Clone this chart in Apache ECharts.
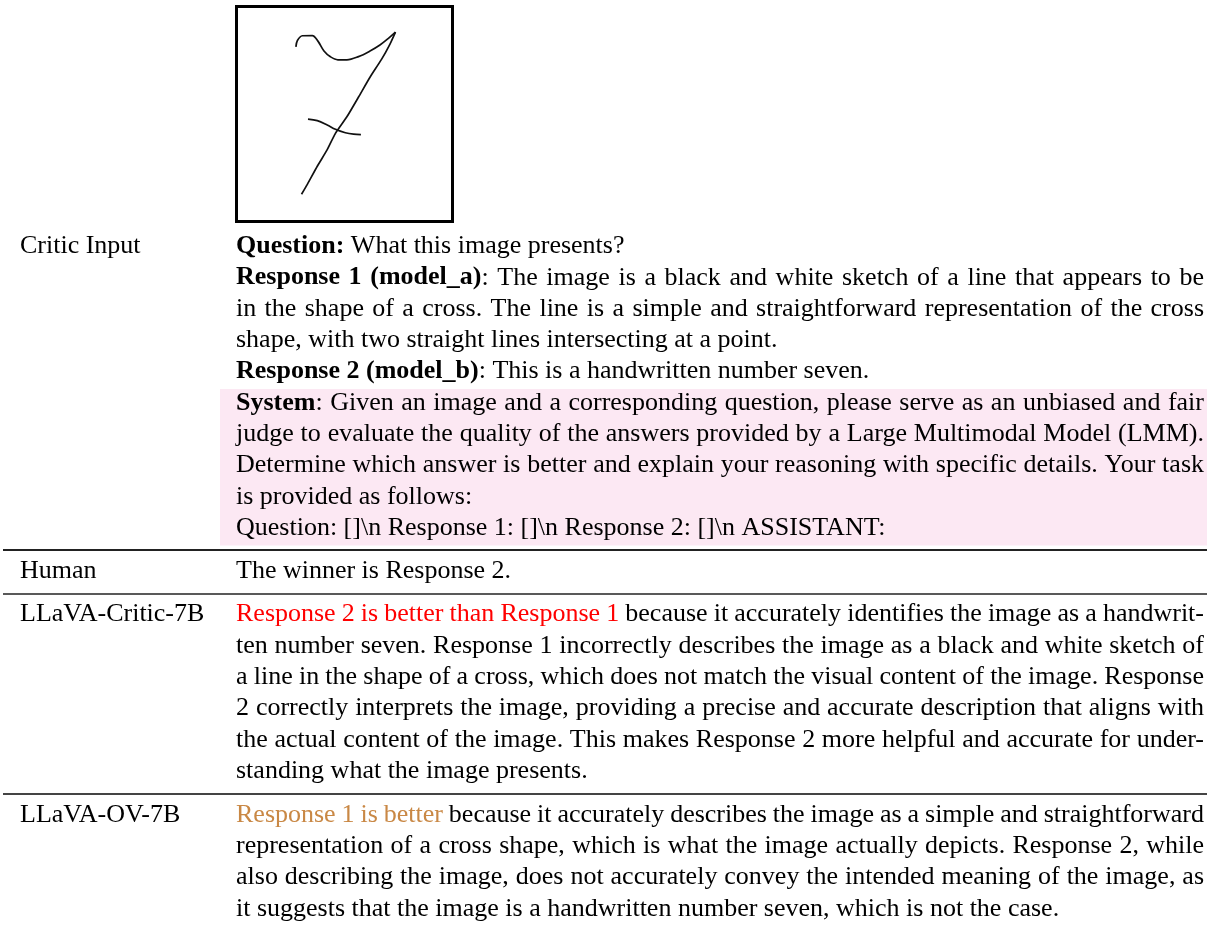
<!DOCTYPE html>
<html>
<head>
<meta charset="utf-8">
<script src="https://cdn.jsdelivr.net/npm/echarts@6/dist/echarts.min.js"></script>
<style>
html,body{margin:0;padding:0;background:#ffffff;}
#chart{width:1207px;height:930px;}
</style>
</head>
<body>
<div id="chart"></div>
<script>
// ---------------- DATA ----------------
const rowLabels = ['Critic Input', 'Human', 'LLaVA-Critic-7B', 'LLaVA-OV-7B'];

// Segment styles: N normal, B bold, R red, O orange. j = justified line
const criticInputLines = [
  {j: false, s: [['B', 'Question:'], ['N', ' What this image presents?']]},
  {j: true,  s: [['B', 'Response 1 (model_a)'], ['N', ': The image is a black and white sketch of a line that appears to be']]},
  {j: true,  s: [['N', 'in the shape of a cross. The line is a simple and straightforward representation of the cross']]},
  {j: false, s: [['N', 'shape, with two straight lines intersecting at a point.']]},
  {j: false, s: [['B', 'Response 2 (model_b)'], ['N', ': This is a handwritten number seven.']]}
];
const systemPromptLines = [
  {j: true,  s: [['B', 'System'], ['N', ': Given an image and a corresponding question, please serve as an unbiased and fair']]},
  {j: true,  s: [['N', 'judge to evaluate the quality of the answers provided by a Large Multimodal Model (LMM).']]},
  {j: true,  s: [['N', 'Determine which answer is better and explain your reasoning with specific details. Your task']]},
  {j: false, s: [['N', 'is provided as follows:']]},
  {j: false, s: [['N', 'Question: []\\n Response 1: []\\n Response 2: []\\n ASSISTANT:']]}
];
const humanLines = [
  {j: false, s: [['N', 'The winner is Response 2.']]}
];
const criticModelLines = [
  {j: true,  s: [['R', 'Response 2 is better than Response 1'], ['N', ' because it accurately identifies the image as a handwrit-']]},
  {j: true,  s: [['N', 'ten number seven. Response 1 incorrectly describes the image as a black and white sketch of']]},
  {j: true,  s: [['N', 'a line in the shape of a cross, which does not match the visual content of the image. Response']]},
  {j: true,  s: [['N', '2 correctly interprets the image, providing a precise and accurate description that aligns with']]},
  {j: true,  s: [['N', 'the actual content of the image. This makes Response 2 more helpful and accurate for under-']]},
  {j: false, s: [['N', 'standing what the image presents.']]}
];
const ovModelLines = [
  {j: true,  s: [['O', 'Response 1 is better'], ['N', ' because it accurately describes the image as a simple and straightforward']]},
  {j: true,  s: [['N', 'representation of a cross shape, which is what the image actually depicts. Response 2, while']]},
  {j: true,  s: [['N', 'also describing the image, does not accurately convey the intended meaning of the image, as']]},
  {j: false, s: [['N', 'it suggests that the image is a handwritten number seven, which is not the case.']]}
];

// Handwritten "7" strokes, in a 0-100 coordinate space of the image box
const sevenTopCurve = [[27.5,81.2],[28.2,84.2],[30.5,86.4],[35.1,86.5],[37.7,83.9],[40.5,79.3],[43.5,76.6],[46.9,75.2],[51.1,75.2],[56.5,76.7],[61.8,79.3],[66.4,82.1],[70.2,85.1],[73.6,88.1]];
const sevenDiagonal = [[73.6,88.1],[71.0,82.4],[67.2,75.5],[61.8,67.1],[56.5,57.9],[51.1,48.7],[45.8,41.0],[42.0,33.4],[37.4,25.7],[32.8,17.3],[30.1,12.7]];
const sevenCrossBar = [[33.1,47.6],[37.4,46.9],[42.0,44.9],[45.8,42.9],[50.4,41.3],[54.2,40.6],[57.6,40.4]];

// ---------------- LAYOUT ----------------
const FONT_FAMILY = '"Liberation Serif","Times New Roman",Times,serif';
const FS = 26;
const MID = 8.6;           // alphabetic baseline -> canvas "middle" offset
const LABEL_X = 20;
const COL_X0 = 236;
const COL_X1 = 1204;
const LH = 31.3;

const mctx = document.createElement('canvas').getContext('2d');
function fontOf(st) { return (st === 'B' ? 'bold ' : '') + FS + 'px ' + FONT_FAMILY; }
function colorOf(st) { return st === 'R' ? '#FF0000' : (st === 'O' ? '#C98845' : '#000000'); }
function measure(t, st) { mctx.font = fontOf(st); return mctx.measureText(t).width; }

function lineToWords(segs) {
  const words = [];
  let cur = [];
  segs.forEach(function (seg) {
    const st = seg[0];
    const parts = seg[1].split(' ');
    parts.forEach(function (p, i) {
      if (i > 0) { if (cur.length) words.push(cur); cur = []; }
      if (p.length) cur.push({st: st, t: p});
    });
  });
  if (cur.length) words.push(cur);
  return words;
}

function textEl(t, st, x, baseline, z) {
  return {
    type: 'text', x: x, y: baseline - MID, z: z || 10, silent: true,
    style: {
      text: t, font: fontOf(st), fill: colorOf(st),
      align: 'left', verticalAlign: 'middle',
      textAlign: 'left', textVerticalAlign: 'middle'
    }
  };
}

function layoutLine(line, baseline, out) {
  const words = lineToWords(line.s);
  const widths = words.map(function (w) { return w.reduce(function (a, p) { return a + measure(p.t, p.st); }, 0); });
  const total = widths.reduce(function (a, b) { return a + b; }, 0);
  const sp = measure(' ', 'N');
  const gap = (line.j && words.length > 1) ? (COL_X1 - COL_X0 - total) / (words.length - 1) : sp;
  let x = COL_X0;
  words.forEach(function (w) {
    w.forEach(function (p) {
      out.push(textEl(p.t, p.st, x, baseline));
      x += measure(p.t, p.st);
    });
    x += gap;
  });
}

function layoutBlock(lines, startBaseline, step, out) {
  lines.forEach(function (ln, i) { layoutLine(ln, startBaseline + i * step, out); });
}

const graphics = [];
// pink system prompt background
graphics.push({type: 'rect', z: 1, silent: true, shape: {x: 220, y: 389, width: 987, height: 156.5}, style: {fill: '#FCE8F3'}});
// horizontal rules
graphics.push({type: 'line', z: 2, silent: true, shape: {x1: 3, y1: 550, x2: 1207, y2: 550}, style: {stroke: '#222', lineWidth: 2}});
graphics.push({type: 'line', z: 2, silent: true, shape: {x1: 3, y1: 594, x2: 1207, y2: 594}, style: {stroke: '#222', lineWidth: 1.6}});
graphics.push({type: 'line', z: 2, silent: true, shape: {x1: 3, y1: 794, x2: 1207, y2: 794}, style: {stroke: '#444', lineWidth: 2}});

// left labels
const labelBaselines = [255, 580, 623, 824];
rowLabels.forEach(function (lab, i) { graphics.push(textEl(lab, 'N', LABEL_X, labelBaselines[i])); });

// right column
layoutBlock(criticInputLines, 255, LH, graphics);
layoutBlock(systemPromptLines, 255 + 5 * LH, LH, graphics);
layoutBlock(humanLines, 580, LH, graphics);
layoutBlock(criticModelLines, 623, 31.4, graphics);
layoutBlock(ovModelLines, 824, 31.1, graphics);

const chart = echarts.init(document.getElementById('chart'), null, {renderer: 'canvas', width: 1207, height: 930});
function strokeSeries(data, smooth) {
  return {type: 'line', data: data, smooth: smooth, symbol: 'none', silent: true,
    lineStyle: {color: '#111', width: 1.7}, z: 5};
}
chart.setOption({
  animation: false,
  backgroundColor: '#ffffff',
  grid: {left: 236.5, top: 6.5, width: 216, height: 215, show: true, borderColor: '#000', borderWidth: 3, backgroundColor: '#fff'},
  xAxis: {type: 'value', min: 0, max: 100, show: false},
  yAxis: {type: 'value', min: 0, max: 100, show: false},
  series: [
    strokeSeries(sevenTopCurve, 0.35),
    strokeSeries(sevenDiagonal, 0.2),
    strokeSeries(sevenCrossBar, 0.35)
  ],
  graphic: {elements: graphics}
});
</script>
</body>
</html>
